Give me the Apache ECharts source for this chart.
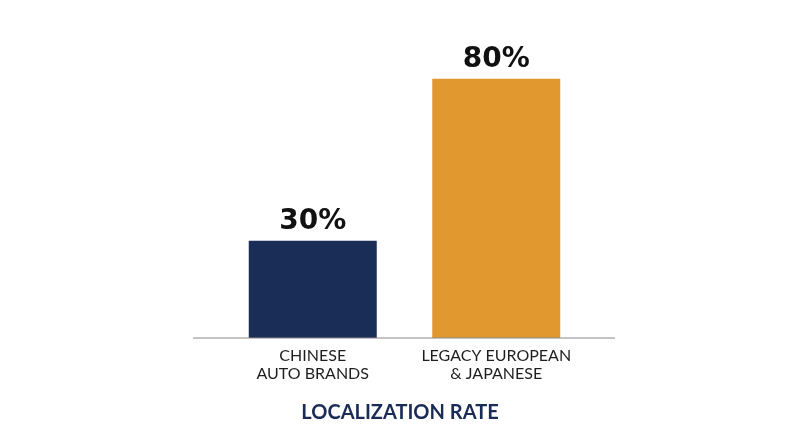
<!DOCTYPE html>
<html><head><meta charset="utf-8">
<script src="https://cdn.jsdelivr.net/npm/echarts@6/dist/echarts.min.js"></script>
<style>html,body{margin:0;padding:0;background:#fff}#c{width:800px;height:447px}</style>
</head><body><div id="c"></div>
<script>
const categories = ['CHINESE\nAUTO BRANDS', 'LEGACY EUROPEAN\n& JAPANESE'];
const values = [30, 80];
const barColors = ['#1a2d57', '#e0982f'];
const axisTitle = 'LOCALIZATION RATE';

const chart = echarts.init(document.getElementById('c'));
chart.setOption({
  backgroundColor: '#fff',
  animation: false,
  title: {
    text: axisTitle, left: 'center', top: 398,
    textStyle: {fontFamily: 'Lato', fontWeight: 'bold', fontSize: 20, color: '#1a2b55'}
  },
  grid: {left: 221, right: 212, top: 14, bottom: 109},
  xAxis: {
    type: 'category', data: categories,
    axisLine: {show: false}, axisTick: {show: false},
    axisLabel: {interval: 0, hideOverlap: false, fontFamily: 'Lato', fontSize: 16, color: '#1e1e1e', lineHeight: 18, margin: 9}
  },
  yAxis: {type: 'value', min: 0, max: 100, show: false},
  graphic: [{
    type: 'line', shape: {x1: 193, y1: 338, x2: 615, y2: 338},
    style: {stroke: '#8a8a8a', lineWidth: 1.2}, z: 10
  }],
  series: [{
    type: 'bar', barWidth: 128,
    data: values.map((v, i) => ({value: v, itemStyle: {color: barColors[i]}})),
    label: {
      show: true, position: 'top', distance: 5, formatter: '{c}%',
      fontFamily: 'DejaVu Sans', fontWeight: 'bold', fontSize: 28, color: '#111'
    }
  }]
});
</script></body></html>
